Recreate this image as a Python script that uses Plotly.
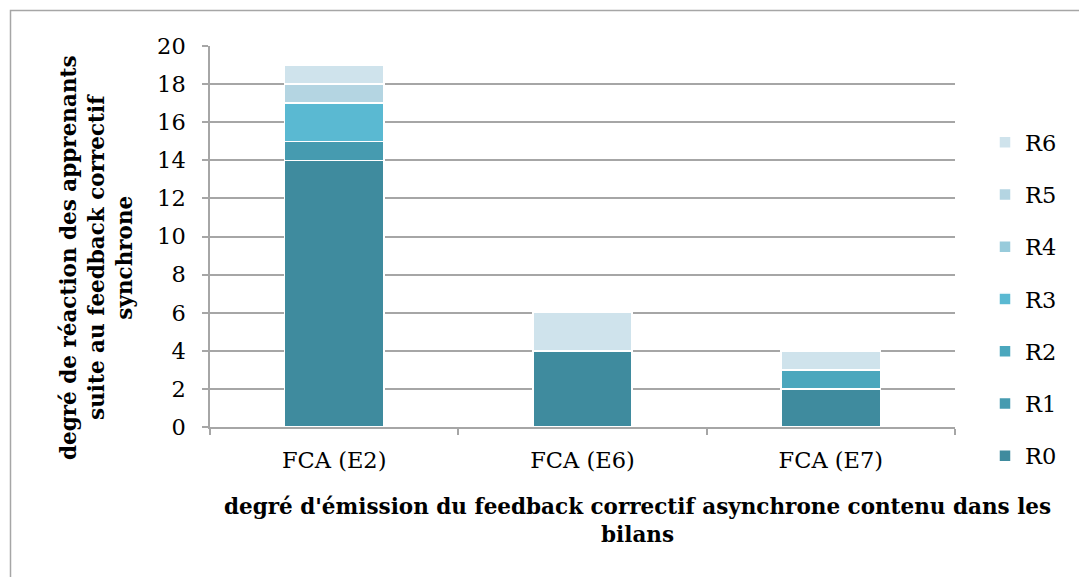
import plotly.graph_objects as go

# Categories and reaction-level counts per category
categories = ["FCA (E2)", "FCA (E6)", "FCA (E7)"]
series_names = ["R0", "R1", "R2", "R3", "R4", "R5", "R6"]
r0 = [14, 4, 2]
r1 = [1, 0, 0]
r2 = [0, 0, 1]
r3 = [2, 0, 0]
r4 = [0, 0, 0]
r5 = [1, 0, 0]
r6 = [1, 2, 1]
y_ticks = [0, 2, 4, 6, 8, 10, 12, 14, 16, 18, 20]

series_values = [r0, r1, r2, r3, r4, r5, r6]
colors = ["#3f8b9e", "#469bb0", "#4ba7bd", "#5ab9d2", "#98cbdb", "#b4d5e2", "#cfe3ec"]

W, H = 1079, 577
L, R, T, B = 210, 955, 46, 427  # plot area in pixels

def px_x(px):
    return (px - L) / (R - L)

def px_y(py):
    return (B - py) / (B - T)

SERIF = "DejaVu Serif"
GRAY = "#a6a6a6"
TICK_SIZE = 22.5

fig = go.Figure()
n = len(series_names)
for i, (name, vals, col) in enumerate(zip(series_names, series_values, colors)):
    fig.add_trace(go.Bar(
        x=categories, y=vals, name=name, legendgroup=name, legendrank=n - i,
        marker=dict(color=col, line=dict(color="white", width=1.5)),
    ))

fig.update_layout(
    width=W, height=H,
    margin=dict(l=L, r=W - R, t=T, b=H - B, pad=0),
    barmode="stack", bargap=0.6,
    paper_bgcolor="white", plot_bgcolor="white",
    font=dict(family=SERIF, color="black", size=TICK_SIZE),
    showlegend=True,
    legend=dict(
        x=px_x(985), y=px_y(121), xanchor="left", yanchor="top",
        traceorder="grouped", tracegroupgap=20,
        font=dict(family=SERIF, size=TICK_SIZE), bgcolor="rgba(0,0,0,0)",
    ),
    xaxis=dict(
        type="category", tickson="boundaries", ticks="outside", ticklen=6,
        tickcolor=GRAY, tickwidth=1.5, showline=True, linecolor=GRAY, linewidth=1.5,
        showgrid=False, tickfont=dict(family=SERIF, size=TICK_SIZE), range=[-0.5, 2.5],
        ticklabelstandoff=12,
    ),
    yaxis=dict(
        range=[0, 20], tickvals=y_ticks, ticks="outside", ticklen=6,
        tickcolor=GRAY, tickwidth=1.5, showline=True, linecolor=GRAY, linewidth=1.5,
        showgrid=True, gridcolor=GRAY, gridwidth=1.5, zeroline=False,
        tickfont=dict(family=SERIF, size=TICK_SIZE), ticklabelstandoff=12,
    ),
    shapes=[dict(
        type="rect", xref="paper", yref="paper",
        x0=px_x(10.5), y0=px_y(10.5), x1=px_x(1100), y1=px_y(600),
        line=dict(color=GRAY, width=1.5), fillcolor="rgba(0,0,0,0)", layer="below",
    )],
    annotations=[
        dict(
            text="<b>degré d'émission du feedback correctif asynchrone contenu dans les<br>bilans</b>",
            xref="paper", yref="paper", x=px_x(637), y=px_y(520),
            xanchor="center", yanchor="middle", showarrow=False,
            font=dict(family=SERIF, size=21.5),
        ),
        dict(
            text="<b>degré de réaction des apprenants<br>suite au feedback correctif<br>synchrone</b>",
            xref="paper", yref="paper", x=px_x(96), y=px_y(258),
            xanchor="center", yanchor="middle", showarrow=False, textangle=-90,
            font=dict(family=SERIF, size=21.5),
        ),
    ],
)

fig.write_html("out.html")
